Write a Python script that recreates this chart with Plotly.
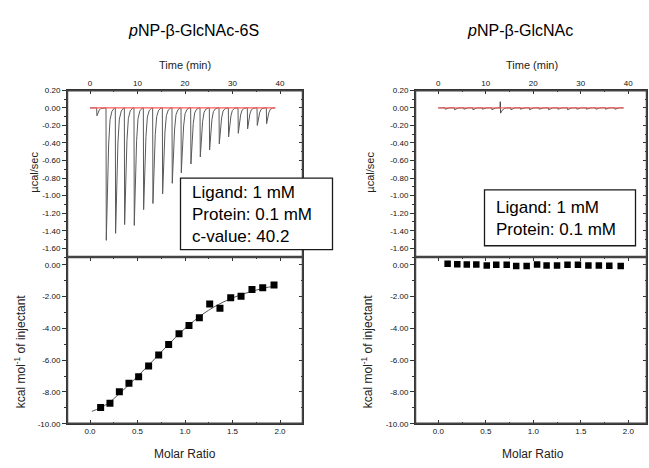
import numpy as np
import plotly.graph_objects as go

W, H = 649, 468

# ---------------- data ----------------
# Left: pNP-β-GlcNAc-6S  (raw thermogram)
inj_time_L = [1.40, 3.37, 5.33, 7.23, 9.26, 11.23, 13.19, 15.23, 17.26, 19.16,
              21.19, 23.16, 25.12, 27.16, 29.12, 31.16, 33.12, 35.16, 37.12]
peak_depth_L = [0.09, 1.51, 1.43, 1.33, 1.34, 1.16, 1.09, 0.98, 0.86, 0.74,
                0.64, 0.56, 0.48, 0.41, 0.33, 0.29, 0.24, 0.20, 0.18]
# Left: integrated heats
ratio_L = [0.112, 0.210, 0.309, 0.410, 0.512, 0.617, 0.723, 0.828, 0.937,
           1.042, 1.151, 1.260, 1.368, 1.481, 1.590, 1.705, 1.818, 1.937]
heat_L = [-8.97, -8.71, -7.99, -7.45, -7.04, -6.37, -5.67, -5.01, -4.33,
          -3.82, -3.33, -2.46, -2.73, -2.07, -1.97, -1.56, -1.44, -1.27]
fit_ratio_L = [0.02, 0.10, 0.20, 0.30, 0.40, 0.50, 0.60, 0.70, 0.80, 0.90,
               1.00, 1.10, 1.20, 1.30, 1.40, 1.50, 1.60, 1.70, 1.80, 1.90, 1.95]
fit_heat_L = [-9.22, -9.02, -8.68, -8.15, -7.60, -7.02, -6.42, -5.80, -5.17,
              -4.57, -4.00, -3.50, -3.05, -2.67, -2.35, -2.08, -1.86, -1.67,
              -1.51, -1.38, -1.32]

# Right: pNP-β-GlcNAc  (raw thermogram)
inj_time_R = [1.40, 3.37, 5.33, 7.23, 9.26, 11.23, 13.05, 15.23, 17.26, 19.16,
              21.19, 23.16, 25.12, 27.16, 29.12, 31.16, 33.12, 35.16, 37.12]
peak_depth_R = [0.015, 0.02, 0.015, 0.02, 0.015, 0.02, 0.06, 0.02, 0.015, 0.02,
                0.015, 0.02, 0.015, 0.02, 0.015, 0.015, 0.015, 0.015, 0.015]
spike_up_R = [0.0, 0.0, 0.0, 0.0, 0.0, 0.0, 0.07, 0.0, 0.0, 0.0,
              0.0, 0.0, 0.0, 0.0, 0.0, 0.0, 0.0, 0.0, 0.0]
# Right: integrated heats
ratio_R = [0.098, 0.200, 0.300, 0.400, 0.510, 0.610, 0.720, 0.820, 0.930,
           1.040, 1.140, 1.250, 1.360, 1.470, 1.580, 1.690, 1.800, 1.920]
heat_R = [0.06, 0.04, 0.02, 0.02, -0.04, 0.00, 0.00, -0.08, -0.08,
          0.02, -0.04, -0.04, 0.00, 0.00, -0.04, -0.04, -0.06, -0.08]

baseline_t = [0.0, 39.0]
baseline_v = [0.0, 0.0]

# tick labels
time_ticks = [0, 10, 20, 30, 40]
time_labels = ["0", "10", "20", "30", "40"]
ratio_ticks = [0.0, 0.5, 1.0, 1.5, 2.0]
ratio_labels = ["0.0", "0.5", "1.0", "1.5", "2.0"]
ucal_ticks = [0.2, 0.0, -0.2, -0.4, -0.6, -0.8, -1.0, -1.2, -1.4, -1.6]
ucal_labels = ["0.20", "0.00", "-0.20", "-0.40", "-0.60", "-0.80", "-1.00",
               "-1.20", "-1.40", "-1.60"]
kcal_ticks = [0, -2, -4, -6, -8, -10]
kcal_labels = ["0.00", "-2.00", "-4.00", "-6.00", "-8.00", "-10.00"]

# ---------------- peak shape (rendering of each injection) ----------------
SHAPE_DT = [0.0, 0.06, 0.28, 0.55, 0.85, 1.25, 1.8]
SHAPE_FRAC = [0.0, 1.0, 0.62, 0.28, 0.09, 0.025, 0.0]


def thermogram(times, depths, ups=None, t_end=39.0):
    xs, ys = [0.0], [0.0]
    for i, (t, d) in enumerate(zip(times, depths)):
        if ups is not None and ups[i] > 0:
            xs += [t - 0.05, t]
            ys += [0.0, ups[i]]
        for o, f in zip(SHAPE_DT, SHAPE_FRAC):
            xs.append(t + o)
            ys.append(-d * f)
    xs.append(t_end)
    ys.append(0.0)
    return xs, ys


def px(x):
    return x / W


def py(y):
    return 1 - y / H


FONT = "Liberation Sans, Arial, sans-serif"
AX = "#333333"
FRAME = "#444444"
TICKFONT = dict(family=FONT, size=8, color="#111111")

fig = go.Figure()

# left top
tx, ty = thermogram(inj_time_L, peak_depth_L)
fig.add_trace(go.Scatter(x=tx, y=ty, mode="lines", xaxis="x", yaxis="y",
                         line=dict(color="#5a5a5a", width=1), hoverinfo="skip"))
fig.add_trace(go.Scatter(x=baseline_t, y=baseline_v, mode="lines", xaxis="x", yaxis="y",
                         line=dict(color="#ff5a5a", width=1.3)))
# left bottom
fig.add_trace(go.Scatter(x=fit_ratio_L, y=fit_heat_L, mode="lines", xaxis="x2", yaxis="y2",
                         line=dict(color="#555555", width=1, shape="spline")))
fig.add_trace(go.Scatter(x=ratio_L, y=heat_L, mode="markers", xaxis="x2", yaxis="y2",
                         marker=dict(symbol="square", size=7, color="black")))
# right top
tx, ty = thermogram(inj_time_R, peak_depth_R, spike_up_R)
fig.add_trace(go.Scatter(x=tx, y=ty, mode="lines", xaxis="x3", yaxis="y3",
                         line=dict(color="#3a3a3a", width=0.9), hoverinfo="skip"))
fig.add_trace(go.Scatter(x=baseline_t, y=baseline_v, mode="lines", xaxis="x3", yaxis="y3",
                         line=dict(color="#ff5a5a", width=1.3), opacity=0.85))
# right bottom
fig.add_trace(go.Scatter(x=ratio_R, y=heat_R, mode="markers", xaxis="x4", yaxis="y4",
                         marker=dict(symbol="square", size=6.5, color="black")))
# invisible traces so the right-side (inward tick) axes are drawn
for xa, ya in [("x", "y5"), ("x2", "y6"), ("x3", "y7"), ("x4", "y8")]:
    fig.add_trace(go.Scatter(x=[None], y=[None], xaxis=xa, yaxis=ya, mode="lines",
                             hoverinfo="skip"))

PL = (67, 303)
PR = (415, 647)
PT = (88, 258)
PB = (258, 428)
domL = [px(PL[0]), px(PL[1])]
domR = [px(PR[0]), px(PR[1])]
domT = [py(PT[1]), py(PT[0])]
domB = [py(PB[1]), py(PB[0])]

rngTimeL = [(PL[0] - 90) / 4.75, (PL[1] - 90) / 4.75]
rngRatioL = [(PL[0] - 90) / 95.0, (PL[1] - 90) / 95.0]
rngTimeR = [(PR[0] - 438.3) / 4.75, (PR[1] - 438.3) / 4.75]
rngRatioR = [(PR[0] - 438.3) / 95.0, (PR[1] - 438.3) / 95.0]
rngT = [-1.70, 0.20]
rngB = [-10.0, 0.49]


def xaxis_cfg(dom, rng, ticks, labels, minor_vals, side, anchor, mirror):
    return dict(domain=dom, range=rng, anchor=anchor, side=side,
                tickvals=ticks, ticktext=labels, ticks="inside", ticklen=4,
                tickcolor=AX, tickwidth=1, tickfont=TICKFONT,
                minor=dict(tickvals=minor_vals, ticks="inside", ticklen=2, tickcolor=AX),
                showline=True, linecolor=AX, linewidth=1, mirror=mirror,
                showgrid=False, zeroline=False, fixedrange=True)


def yaxis_cfg(dom, rng, ticks, labels, minor_vals, anchor):
    return dict(domain=dom, range=rng, anchor=anchor,
                tickvals=ticks, ticktext=labels, ticks="outside", ticklen=4,
                tickcolor=AX, tickwidth=1, tickfont=TICKFONT,
                minor=dict(tickvals=minor_vals, ticks="outside", ticklen=2, tickcolor=AX),
                showline=True, linecolor=AX, linewidth=1, mirror=True,
                showgrid=False, zeroline=False, fixedrange=True)


def yright_cfg(rng, ticks, minor_vals, over, anchor):
    return dict(range=rng, overlaying=over, anchor=anchor, side="right",
                tickvals=ticks, ticks="inside", ticklen=4, tickcolor=AX,
                showticklabels=False,
                minor=dict(tickvals=minor_vals, ticks="inside", ticklen=2, tickcolor=AX),
                showline=True, linecolor=AX, linewidth=1,
                showgrid=False, zeroline=False, fixedrange=True)


time_minor = list(np.arange(-5, 46, 5))
ratio_minor = list(np.arange(-0.25, 2.3, 0.25))
ucal_minor = list(np.round(np.arange(-1.7, 0.21, 0.1), 2))
kcal_minor = list(np.arange(-10, 1, 1))

fig.update_layout(
    width=W, height=H, margin=dict(l=0, r=0, t=0, b=0),
    paper_bgcolor="white", plot_bgcolor="white", showlegend=False,
    xaxis=xaxis_cfg(domL, rngTimeL, time_ticks, time_labels, time_minor, "top", "y", True),
    yaxis=yaxis_cfg(domT, rngT, ucal_ticks, ucal_labels, ucal_minor, "x"),
    xaxis2=xaxis_cfg(domL, rngRatioL, ratio_ticks, ratio_labels, ratio_minor, "bottom", "y2", "ticks"),
    yaxis2=yaxis_cfg(domB, rngB, kcal_ticks, kcal_labels, kcal_minor, "x2"),
    xaxis3=xaxis_cfg(domR, rngTimeR, time_ticks, time_labels, time_minor, "top", "y3", True),
    yaxis3=yaxis_cfg(domT, rngT, ucal_ticks, ucal_labels, ucal_minor, "x3"),
    xaxis4=xaxis_cfg(domR, rngRatioR, ratio_ticks, ratio_labels, ratio_minor, "bottom", "y4", "ticks"),
    yaxis4=yaxis_cfg(domB, rngB, kcal_ticks, kcal_labels, kcal_minor, "x4"),
    yaxis5=yright_cfg(rngT, ucal_ticks, ucal_minor, "y", "x"),
    yaxis6=yright_cfg(rngB, kcal_ticks, kcal_minor, "y2", "x2"),
    yaxis7=yright_cfg(rngT, ucal_ticks, ucal_minor, "y3", "x3"),
    yaxis8=yright_cfg(rngB, kcal_ticks, kcal_minor, "y4", "x4"),
)

# panel frames
for (x0, x1) in (PL, PR):
    for (y0, y1) in (PT, PB):
        fig.add_shape(type="rect", xref="paper", yref="paper",
                      x0=px(x0 + 0.5), x1=px(x1 - 0.5), y0=py(y1 - 0.5), y1=py(y0 + 0.5),
                      line=dict(color=FRAME, width=1.5), fillcolor="rgba(0,0,0,0)",
                      layer="above")

# info boxes (on top of frames)
fig.add_shape(type="rect", xref="paper", yref="paper",
              x0=px(180.5), x1=px(332.5), y0=py(250.5), y1=py(177.5),
              line=dict(color="#1a1a1a", width=1.3), fillcolor="white", layer="above")
fig.add_shape(type="rect", xref="paper", yref="paper",
              x0=px(484.5), x1=px(635.5), y0=py(246.5), y1=py(189.5),
              line=dict(color="#1a1a1a", width=1.3), fillcolor="white", layer="above")


def ann(text, x, y, size, xanchor="center", angle=0, color="#222222", align="center"):
    fig.add_annotation(text=text, x=px(x), y=py(y), xref="paper", yref="paper",
                       showarrow=False, xanchor=xanchor, yanchor="middle",
                       textangle=angle, align=align,
                       font=dict(family=FONT, size=size, color=color))


ann("Ligand: 1 mM<br>Protein: 0.1 mM<br>c-value: 40.2", 190, 215, 17,
    xanchor="left", align="left", color="black")
ann("Ligand: 1 mM<br>Protein: 0.1 mM", 494, 219, 17,
    xanchor="left", align="left", color="black")

# titles
ann("<i>p</i>NP-β-GlcNAc-6S", 193, 27, 16, color="black")
ann("<i>p</i>NP-β-GlcNAc", 520, 27, 16, color="black")
# axis titles
ann("Time (min)", 185, 62, 11)
ann("Time (min)", 532, 62, 11)
ann("Molar Ratio", 185, 459, 12)
ann("Molar Ratio", 533, 459, 12)
ann("µcal/sec", 34, 172, 11, angle=-90)
ann("µcal/sec", 370, 172, 11, angle=-90)
ann("kcal mol<sup>-1</sup> of injectant", 20, 354, 12, angle=-90)
ann("kcal mol<sup>-1</sup> of injectant", 367, 354, 12, angle=-90)

fig.write_html("out.html")
